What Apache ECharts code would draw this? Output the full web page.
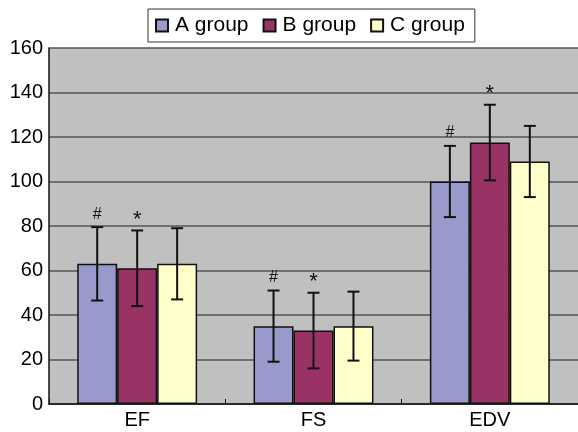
<!DOCTYPE html>
<html>
<head>
<meta charset="utf-8">
<script src="https://cdn.jsdelivr.net/npm/echarts@6/dist/echarts.min.js"></script>
<style>html,body{margin:0;padding:0;background:#fff}#c{width:578px;height:432px}</style>
</head>
<body>
<div id="c"></div>
<script>
var categories = ['EF', 'FS', 'EDV'];
var seriesNames = ['A group', 'B group', 'C group'];
var aMean = [63, 35, 100];
var bMean = [61, 33, 117.5];
var cMean = [63, 35, 109];
var aErr = [16.5, 16, 16];
var bErr = [17, 17, 17];
var cErr = [16, 15.5, 16];
var aMark = ['#', '#', '#'];
var bMark = ['*', '*', '*'];
var cMark = ['', '', ''];
var yTicks = [0, 20, 40, 60, 80, 100, 120, 140, 160];

var colors = ['#9999cc', '#993366', '#ffffcc'];
var means = [aMean, bMean, cMean];
var errs = [aErr, bErr, cErr];
var marks = [aMark, bMark, cMark];
var catGap = 0.32;
var FONT = '"Liberation Sans", Arial, sans-serif';

var chart = echarts.init(document.getElementById('c'));
var series = [];
seriesNames.forEach(function (n, i) {
  series.push({
    name: n, type: 'bar', data: means[i], barGap: '0%', barCategoryGap: (catGap * 100) + '%',
    itemStyle: { color: colors[i], borderColor: '#111', borderWidth: 1.5 },
    z: 2
  });
});
seriesNames.forEach(function (n, i) {
  var data = categories.map(function (c, k) {
    return [k, means[i][k] - errs[i][k], means[i][k] + errs[i][k], marks[i][k]];
  });
  series.push({
    type: 'custom', z: 5, silent: true,
    data: data,
    encode: { x: 0, y: [1, 2] },
    renderItem: function (params, api) {
      var k = api.value(0);
      var lo = api.coord([k, api.value(1)]);
      var hi = api.coord([k, api.value(2)]);
      var band = api.size([1, 0])[0];
      var bw = band * (1 - catGap) / 3;
      var x = lo[0] + (i - 1) * bw;
      var cap = 6;
      var st = { stroke: '#111', lineWidth: 2 };
      var ch = [
        { type: 'line', shape: { x1: x, y1: lo[1], x2: x, y2: hi[1] }, style: st },
        { type: 'line', shape: { x1: x - cap, y1: hi[1], x2: x + cap, y2: hi[1] }, style: st },
        { type: 'line', shape: { x1: x - cap, y1: lo[1], x2: x + cap, y2: lo[1] }, style: st }
      ];
      var m = marks[i][k];
      if (m) {
        ch.push({ type: 'text', style: { text: m, x: x, y: hi[1] - (m === '*' ? 0 : 5), align: 'center', verticalAlign: 'bottom', font: (m === '*' ? '22px ' : '16px ') + FONT, fill: '#111' } });
      }
      return { type: 'group', children: ch };
    }
  });
});

chart.setOption({
  animation: false,
  grid: { left: 49, right: 0, top: 48, bottom: 28, show: true, backgroundColor: '#c0c0c0', borderWidth: 0 },
  legend: {
    data: seriesNames, left: 148, top: 9, icon: 'rect', itemWidth: 12, itemHeight: 12, itemGap: 14,
    backgroundColor: '#fff', borderColor: '#333', borderWidth: 1, padding: [6, 10, 6, 7],
    textStyle: { fontSize: 21, color: '#000', fontFamily: FONT, padding: [0, 0, 0, 2] }
  },
  xAxis: {
    type: 'category', data: categories,
    axisLine: { lineStyle: { color: '#111', width: 1.5 } },
    axisTick: { show: true, inside: true, length: 5, lineStyle: { color: '#111' } },
    axisLabel: { fontSize: 20, color: '#000', margin: 6, fontFamily: FONT }
  },
  yAxis: {
    type: 'value', min: yTicks[0], max: yTicks[yTicks.length - 1], interval: 20,
    axisLine: { show: true, lineStyle: { color: '#111', width: 1.5 } },
    axisTick: { show: false },
    splitLine: { lineStyle: { color: '#555', width: 1.5 } },
    axisLabel: { fontSize: 20, color: '#000', margin: 6, fontFamily: FONT }
  },
  series: series
});
</script>
</body>
</html>
